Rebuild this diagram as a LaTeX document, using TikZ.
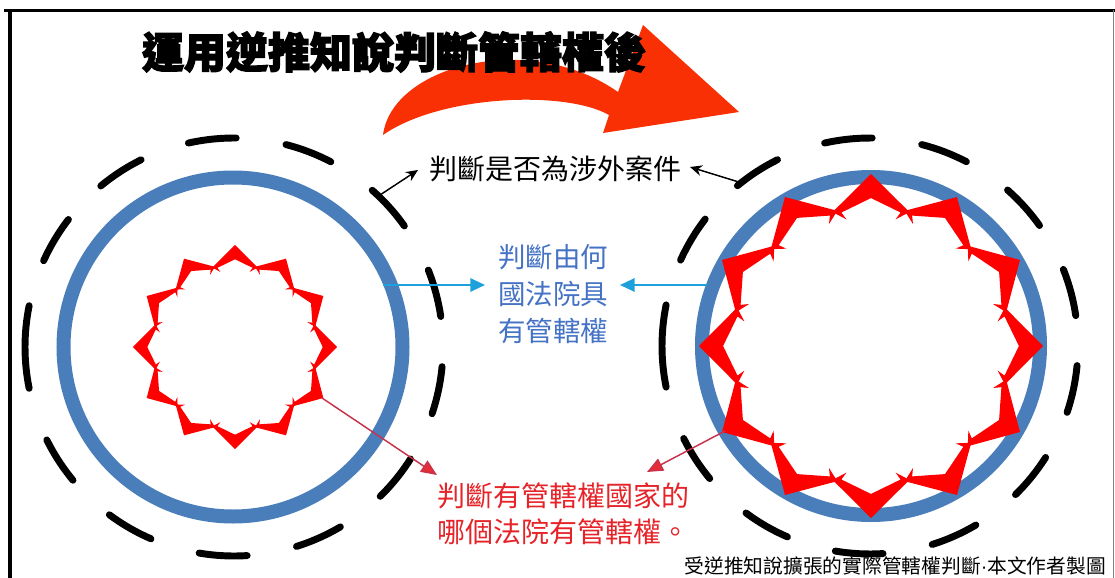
\documentclass[tikz,border=0pt]{standalone}
\usepackage{fontspec}
\setmainfont{Liberation Sans}
\newfontfamily\cjk{Noto Sans CJK TC}
\newfontfamily\cjktitle{Noto Sans CJK TC}
\newcommand\heavytext[1]{\special{pdf:literal 2 Tr 1.0 w}#1\special{pdf:literal 0 Tr 0.4 w}}
\usetikzlibrary{arrows.meta}
\definecolor{ringblue}{RGB}{74,126,187}
\definecolor{starred}{RGB}{255,0,0}
\definecolor{bigarrow}{RGB}{250,48,5}
\definecolor{txtblue}{RGB}{68,114,196}
\definecolor{lineblue}{RGB}{30,160,220}
\definecolor{txtred}{RGB}{230,35,40}
\definecolor{linered}{RGB}{200,50,75}
\definecolor{tipred}{RGB}{230,45,55}
\newcommand\mystar[3]{%
  \begin{scope}[shift={(#1,#2)}]
  \foreach \k in {0,...,11}{
    \pgfmathsetmacro\t{90+30*\k}
    \fill[starred] (\t:#3) -- (\t+16:{0.81*#3}) -- (\t+11:{0.75*#3})
      -- (\t+12.5:{0.795*#3}) -- (\t:{0.86*#3}) -- (\t-12.5:{0.795*#3})
      -- (\t-11:{0.75*#3}) -- (\t-16:{0.81*#3}) -- cycle;
  }
  \end{scope}}
\newcommand\mydashring[3]{%
  \begin{scope}[shift={(#1,#2)}]
  \foreach \a/\d in {-96/6.6,-69/6.6,-42/6.6,-15/6.6,12/6.6,39/6.6,66/6.6,93/6.6,120/6.6,147/6.6,180/11.4,-149/6.6,-123/6.6}{
    \draw[dashring] (\a-\d:#3) arc[start angle=\a-\d, end angle=\a+\d, radius=#3];
  }
  \end{scope}}
\begin{document}
\begin{tikzpicture}[x=0.75pt,y=-0.75pt,
  dashring/.style={line width=5.2pt,line cap=round,black},
  ring/.style={draw=ringblue,line width=10.5pt},
  frameline/.style={line width=#1},
  bluearrow/.style={draw=lineblue,line width=1.6pt,-{Triangle[length=11pt,width=10pt]}},
  blackarrow/.style={draw=black,line width=1.1pt,-{Stealth[length=9pt,width=8pt]}},
  redarrow/.style={draw=linered,line width=1.1pt,-{Triangle[length=12pt,width=10pt,fill=tipred]}},
  lbl/.style={inner sep=0pt,align=center}]
\useasboundingbox (0,0) rectangle (1115,578);
\fill[white] (0,0) rectangle (1115,578);
% frame
\draw[frameline=2.4pt] (4,10.5) -- (1115,10.5);
\draw[frameline=3.2pt] (10,10) -- (10,578);
\draw[frameline=1.1pt,gray] (1113.5,10) -- (1113.5,578);
% rings
\mydashring{234}{347}{209}
\mydashring{870}{346}{208}
\draw[ring] (233,347) circle[radius=169.5];
\draw[ring] (871,346) circle[radius=169];
% stars
\mystar{235}{347}{102}
\mystar{871}{346}{172}
% big curved arrow
\fill[bigarrow] (383,135) .. controls (392,65) and (530,30) .. (618,92)
  -- (643,25) -- (739,112) -- (603,133) -- (609,115)
  .. controls (565,90) and (440,95) .. (383,135) -- cycle;
% title
\node[lbl,font=\cjktitle\bfseries\fontsize{31.5}{34}\selectfont] (title) at (394,52) {\heavytext{運用逆推知說判斷管轄權後}};
% texts
\node[lbl,font=\cjk\fontsize{21}{25}\selectfont] (foreign) at (555,169) {判斷是否為涉外案件};
\node[lbl,font=\cjk\fontsize{20.6}{28}\selectfont,text=txtblue] (which) at (553,294) {判斷由何\\國法院具\\有管轄權};
\node[lbl,font=\cjk\fontsize{21}{27}\selectfont,text=txtred,align=left,anchor=north west] (court) at (437,482) {判斷有管轄權國家的\\哪個法院有管轄權。};
\node[lbl,font=\cjk\fontsize{14.8}{17}\selectfont,anchor=east] (credit) at (1106,566) {受逆推知說擴張的實際管轄權判斷{\rmfamily ·}本文作者製圖};
% connector ends
\coordinate (ldash) at (380,195);
\coordinate (rdash) at (742,183);
\coordinate (ftL) at (418,170);
\coordinate (ftR) at (690,167);
\coordinate (lring) at (383,285);
\coordinate (rring) at (707,285);
\coordinate (whL) at (485,285);
\coordinate (whR) at (620,285);
\coordinate (lspike) at (322,398);
\coordinate (rspike) at (725,431);
\coordinate (ctL) at (437,475);
\coordinate (ctR) at (647,472);
\draw[blackarrow] (ldash) -- (ftL);
\draw[blackarrow] (rdash) -- (ftR);
\draw[bluearrow] (lring) -- (whL);
\draw[bluearrow] (rring) -- (whR);
\draw[redarrow] (lspike) -- (ctL);
\draw[redarrow] (rspike) -- (ctR);
\end{tikzpicture}
\end{document}
